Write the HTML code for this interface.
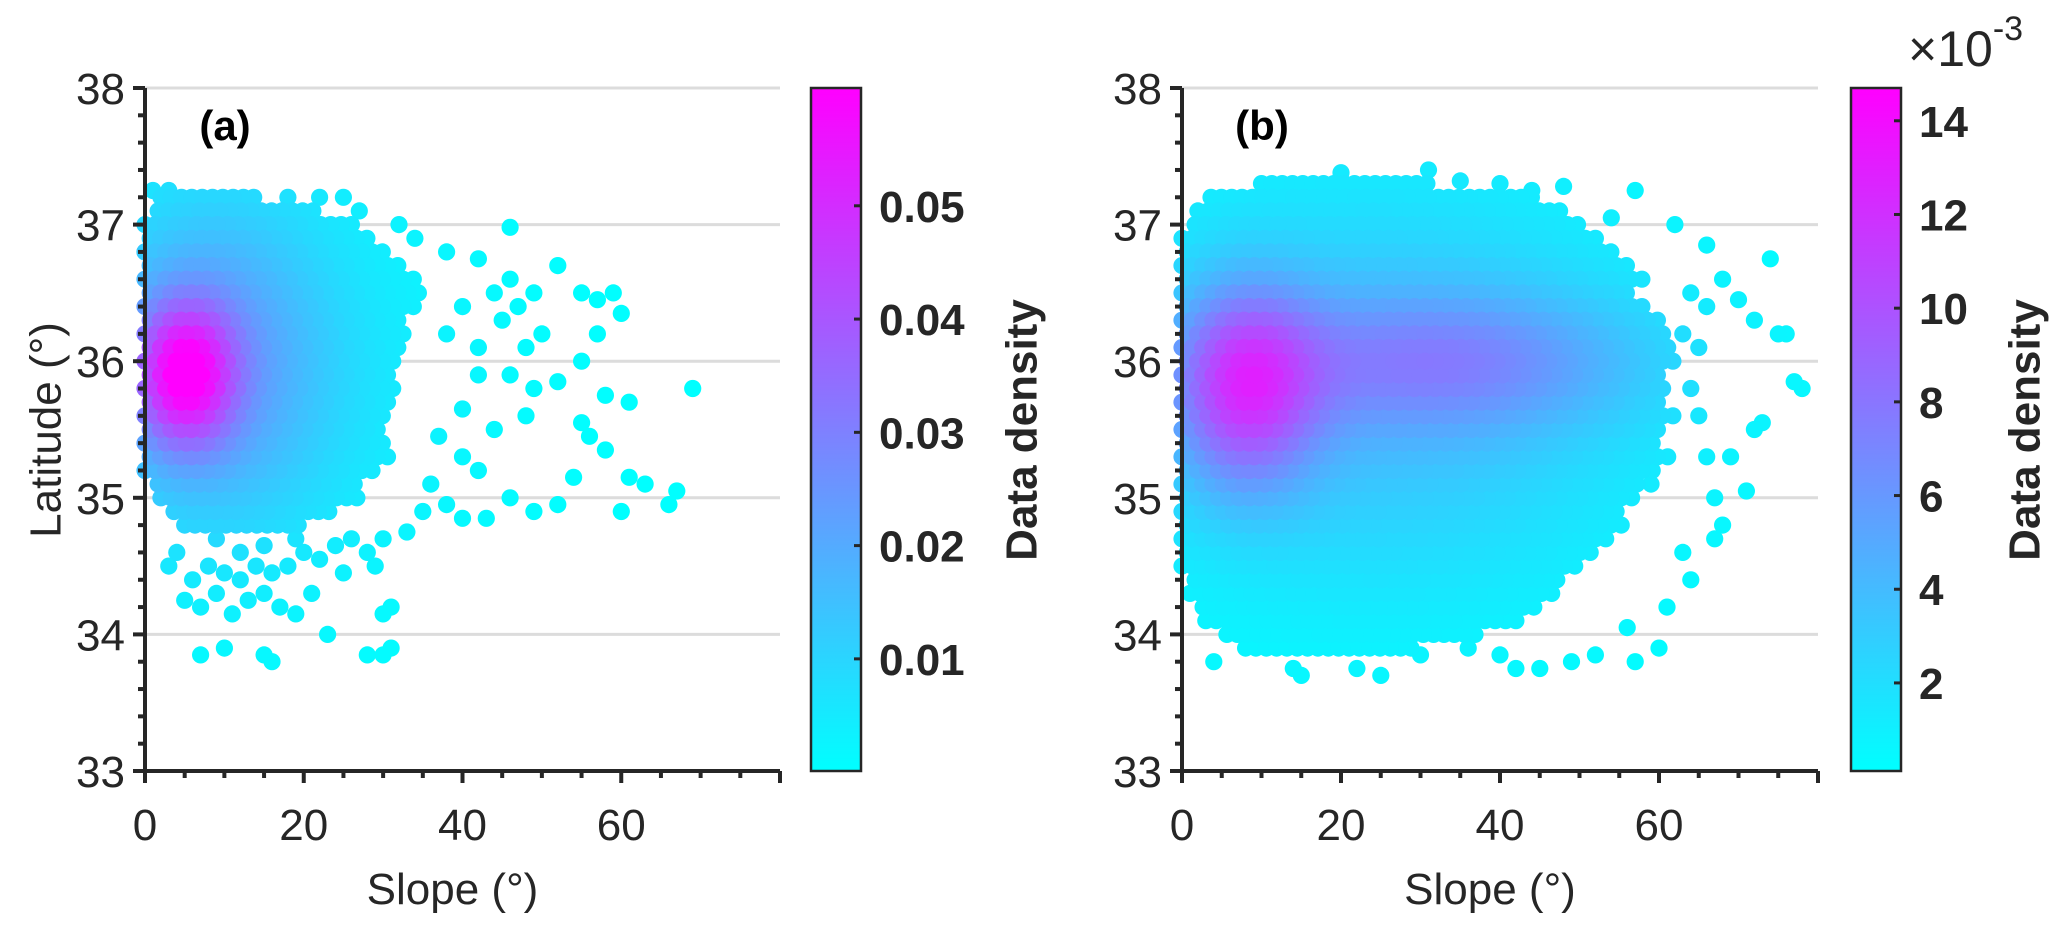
<!DOCTYPE html>
<html><head><meta charset="utf-8"><style>
html,body{margin:0;padding:0;background:#fff;}
svg{display:block;font-family:"Liberation Sans",Arial,sans-serif;}
</style></head><body>
<svg id="chart" width="2067" height="929" viewBox="0 0 2067 929" xmlns="http://www.w3.org/2000/svg">
<defs>
<linearGradient id="cool" x1="0" y1="1" x2="0" y2="0">
<stop offset="0" stop-color="#00ffff"/><stop offset="1" stop-color="#ff00ff"/>
</linearGradient>
</defs>
</svg>
<script>
// ---------- data ----------
const xTicks = [0, 20, 40, 60];
const yTicks = [33, 34, 35, 36, 37, 38];
const cbTicksA = [0.01, 0.02, 0.03, 0.04, 0.05];
const cbTickLabelsA = ["0.01", "0.02", "0.03", "0.04", "0.05"];
const cbTicksB = [2, 4, 6, 8, 10, 12, 14];
const cbTickLabelsB = ["2", "4", "6", "8", "10", "12", "14"];
const cbRangeA = [0.0001, 0.0604];
const cbRangeB = [0.12, 14.7];
// dense rows: [latitude, slope start, slope end]
const coreRowsA = [
[37.2,2,14],[37.1,1,22],[37.0,0,27],[36.9,0,29],[36.8,0,30],[36.7,0,32],[36.6,0,34],[36.5,0,35],
[36.4,0,34],[36.3,0,33],[36.2,0,33],[36.1,0,32],[36.0,0,32],[35.9,0,31],[35.8,0,32],[35.7,0,31],
[35.6,0,31],[35.5,0,30],[35.4,0,30],[35.3,0,31],[35.2,0,29],[35.1,1,27],[35.0,2,28],[34.9,3,24],[34.8,5,20]];
const outliersA = [
[38,36.8],[42,36.75],[44,36.5],[46,36.6],[47,36.4],[49,36.5],[52,36.7],[45,36.3],[48,36.1],[50,36.2],[55,36.5],[57,36.45],
[59,36.5],[60,36.35],[57,36.2],[55,36.0],[46,35.9],[49,35.8],[52,35.85],[58,35.75],[61,35.7],[69,35.8],[44,35.5],[48,35.6],
[55,35.55],[56,35.45],[58,35.35],[54,35.15],[61,35.15],[63,35.1],[66,34.95],[67,35.05],[60,34.9],[52,34.95],[49,34.9],[46,35.0],
[43,34.85],[40,34.85],[38,34.95],[36,35.1],[40,35.3],[42,35.2],[37,35.45],[40,35.65],[42,35.9],[38,36.2],[40,36.4],[42,36.1],
[35,34.9],[33,34.75],[30,34.7],[28,34.6],[26,34.7],[24,34.65],[22,34.55],[20,34.6],[18,34.5],[16,34.45],[14,34.5],[12,34.4],
[10,34.45],[8,34.5],[6,34.4],[3,34.5],[5,34.25],[7,34.2],[9,34.3],[11,34.15],[13,34.25],[15,34.3],[17,34.2],[19,34.15],
[21,34.3],[23,34.0],[30,34.15],[31,34.2],[7,33.85],[10,33.9],[15,33.85],[16,33.8],[28,33.85],[30,33.85],[31,33.9],[12,34.6],
[15,34.65],[9,34.7],[19,34.7],[25,34.45],[4,34.6],[34,36.9],[32,37.0],[27,37.1],[25,37.2],[22,37.2],[18,37.2],[1,37.25],
[3,37.25],[46,36.98],[29,34.5],[0,36.8]];
const coreRowsB = [
[37.3,10,32],[37.2,3,45],[37.1,2,48],[37.0,1,50],[36.9,0,52],[36.8,0,55],[36.7,0,56],[36.6,0,58],[36.5,0,57],[36.4,0,58],
[36.3,0,60],[36.2,0,61],[36.1,0,62],[36.0,0,62],[35.9,0,60],[35.8,0,61],[35.7,0,60],[35.6,0,62],[35.5,0,61],[35.4,0,60],
[35.3,0,62],[35.2,0,60],[35.1,0,58],[35.0,0,57],[34.9,0,55],[34.8,0,56],[34.7,0,54],[34.6,0,52],[34.5,0,50],[34.4,1,48],
[34.3,1,47],[34.2,2,45],[34.1,3,42],[34.0,5,38],[33.9,8,30]];
const outliersB = [
[64,36.5],[66,36.4],[68,36.6],[70,36.45],[72,36.3],[75,36.2],[76,36.2],[77,35.85],[78,35.8],[73,35.55],[72,35.5],[71,35.05],
[65,35.6],[66,35.3],[67,35.0],[68,34.8],[67,34.7],[63,34.6],[64,34.4],[61,34.2],[60,33.9],[57,33.8],[56,34.05],[52,33.85],
[49,33.8],[45,33.75],[42,33.75],[40,33.85],[36,33.9],[30,33.85],[25,33.7],[22,33.75],[15,33.7],[14,33.75],[4,33.8],[62,37.0],
[57,37.25],[54,37.05],[48,37.28],[44,37.25],[40,37.3],[35,37.32],[31,37.4],[20,37.38],[66,36.85],[74,36.75],[63,36.2],
[65,36.1],[64,35.8],[69,35.3],[59,35.1]];
// density model components: [slope, lat, sigmaSlope, sigmaLat, amplitude]
const densityA = [[5,35.9,4,0.35,0.042],[8,36.0,10,0.8,0.02],[15,35.9,18,1.2,0.006]];
const densityB = [[8,35.8,6,0.5,8.5],[33,36.0,18,0.35,4.2],[25,35.8,25,1.1,3.8]];

// ---------- layout ----------
const NS = "http://www.w3.org/2000/svg";
const svg = document.getElementById("chart");
const yTop = 88, yBot = 771;
const panels = [
 {id:"a", x0:145, x1:780, cbX:811, cbW:50, rows:coreRowsA, out:outliersA, dens:densityA, range:cbRangeA, ticks:cbTicksA, labels:cbTickLabelsA, lbl:"(a)"},
 {id:"b", x0:1182, x1:1818, cbX:1851, cbW:50, rows:coreRowsB, out:outliersB, dens:densityB, range:cbRangeB, ticks:cbTicksB, labels:cbTickLabelsB, lbl:"(b)"}
];
function mk(tag, attrs, parent){const e=document.createElementNS(NS,tag);for(const k in attrs)e.setAttribute(k,attrs[k]);(parent||svg).appendChild(e);return e;}
function yScale(v){return yBot-(v-33)/(38-33)*(yBot-yTop);}
function coolColor(t){t=Math.max(0,Math.min(1,t));return `rgb(${Math.round(255*t)},${Math.round(255*(1-t))},255)`;}

panels.forEach(p=>{
 const xs = v => p.x0 + v/80*(p.x1-p.x0);
 const g = mk("g",{});
 
 
 // gridlines
 yTicks.slice(1).forEach(t=>{
  const l=mk("line",{x1:p.x0,x2:p.x1,y1:yScale(t),y2:yScale(t),stroke:"#dcdcdc","stroke-width":3},g);
  
  
 });
 // points
 const pts=[];
 p.rows.forEach((r,i)=>{const off=(i%2)*0.65;for(let s=r[1]+off;s<=r[2];s+=1.3)pts.push([s,r[0]]);});
 p.out.forEach(o=>pts.push(o));
 const dens = (s,la)=>p.dens.reduce((a,c)=>a+c[4]*Math.exp(-((s-c[0])**2)/(2*c[2]**2)-((la-c[1])**2)/(2*c[3]**2)),0);
 const withD = pts.map(q=>[q[0],q[1],dens(q[0],q[1])]).sort((a,b)=>a[2]-b[2]);
 const pg = mk("g",{},g);
 
 
 withD.forEach(q=>{
  const t=(q[2]-p.range[0])/(p.range[1]-p.range[0]);
  const c=mk("circle",{cx:xs(q[0]).toFixed(1),cy:yScale(q[1]).toFixed(1),r:8.6,fill:coolColor(t)},pg);
  
  
 });
 // axes
 const ax=mk("path",{d:`M${p.x0},${yTop} V${yBot} H${p.x1}`,fill:"none",stroke:"#262626","stroke-width":4},g);
 
 
 for(let v=0;v<=80;v+=5){const big=v%20===0;const t=mk("line",{x1:xs(v),x2:xs(v),y1:yBot,y2:yBot+(big?12:7),stroke:"#262626","stroke-width":4},g);
  
  }
 for(let v=33;v<=38.001;v+=0.2){const big=Math.abs(v-Math.round(v))<0.01;const yy=yScale(v);const t=mk("line",{x1:p.x0-(big?12:7),x2:p.x0,y1:yy,y2:yy,stroke:"#262626","stroke-width":4},g);
  
  }
 xTicks.forEach(v=>{const t=mk("text",{x:xs(v),y:840,"text-anchor":"middle","font-size":44,fill:"#262626"},g);t.textContent=String(v);
  
  });
 yTicks.forEach(v=>{const t=mk("text",{x:p.x0-20,y:yScale(v)+16,"text-anchor":"end","font-size":44,fill:"#262626"},g);t.textContent=String(v);
  
  });
 const xl=mk("text",{x:(p.x0+p.x1)/2-10,y:904,"text-anchor":"middle","font-size":44,fill:"#262626"},g);xl.textContent="Slope (°)";
 
 
 const pl=mk("text",{x:p.x0+80,y:140,"text-anchor":"middle","font-size":42,"font-weight":"bold",fill:"#000"},g);pl.textContent=p.lbl;
 
 
 // colorbar
 const cb=mk("rect",{x:p.cbX,y:yTop,width:p.cbW,height:yBot-yTop,fill:"url(#cool)",stroke:"#262626","stroke-width":2.5},g);
 
 
 const cs=v=>yBot-(v-p.range[0])/(p.range[1]-p.range[0])*(yBot-yTop);
 p.ticks.forEach((v,i)=>{
  const yy=cs(v);
  const t=mk("line",{x1:p.cbX+p.cbW-7,x2:p.cbX+p.cbW,y1:yy,y2:yy,stroke:"#262626","stroke-width":3},g);
  
  
  const tl=mk("text",{x:p.cbX+p.cbW+18,y:yy+16,"font-size":44,"font-weight":"bold",fill:"#262626"},g);tl.textContent=p.labels[i];
  
  
 });
 const cx = p.id==="a"?1022:2025;
 const dl=mk("text",{x:cx,y:430,"text-anchor":"middle","font-size":44,"font-weight":"bold",fill:"#262626",transform:`rotate(-90 ${cx} 430)`,"dominant-baseline":"central"},g);dl.textContent="Data density";
 
 
});
const yl=mk("text",{x:46,y:430,"text-anchor":"middle","font-size":44,fill:"#262626",transform:"rotate(-90 46 430)","dominant-baseline":"central"});yl.textContent="Latitude (°)";


const ex=mk("text",{x:1908,y:66,"font-size":50,fill:"#262626"});ex.innerHTML='×10<tspan dy="-26" font-size="34">-3</tspan>';


</script>
</body></html>
